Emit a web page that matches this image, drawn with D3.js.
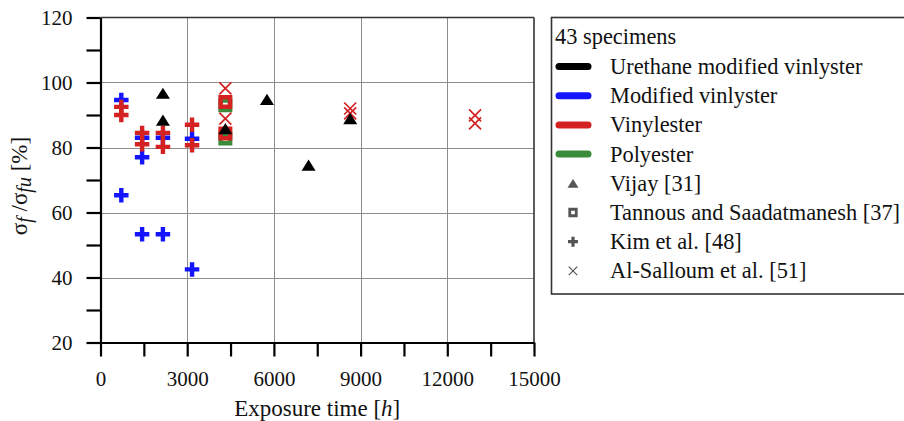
<!DOCTYPE html>
<html><head><meta charset="utf-8">
<script src="https://cdn.jsdelivr.net/npm/d3@7"></script>
<style>
body{margin:0;background:#fff}
svg{display:block}
</style>
</head><body>
<svg id="chart" width="904" height="421"></svg>
<script>
// ---------- data ----------
const resinNames  = ["Urethane modified vinlyster", "Modified vinlyster", "Vinylester", "Polyester"];
const resinColors = ["#000000", "#1414ff", "#d42222", "#3a8c3a"];
const studyNames  = ["Vijay [31]", "Tannous and Saadatmanesh [37]", "Kim et al. [48]", "Al-Salloum et al. [51]"];

// Vijay [31] – urethane modified vinylester (triangles)
const vijayTime  = [2160, 2160, 4320, 5760, 7200, 8640];
const vijayValue = [96.7, 88.4, 85.8, 94.8, 74.6, 88.9];

// Tannous and Saadatmanesh [37] (squares)
const tannousPolyTime   = [4320, 4320];
const tannousPolyValue  = [93.0, 82.8];
const tannousVinylTime  = [4320, 4320];
const tannousVinylValue = [94.0, 84.3];

// Kim et al. [48] (plus)
const kimModTime    = [720, 720, 1440, 1440, 1440, 2160, 2160, 3168, 3168];
const kimModValue   = [94.6, 65.3, 83.0, 77.0, 53.3, 83.0, 53.3, 82.7, 42.5];
const kimVinylTime  = [720, 720, 1440, 1440, 2160, 2160, 3168, 3168];
const kimVinylValue = [92.5, 90.0, 84.5, 81.0, 84.5, 80.2, 87.0, 80.7];

// Al-Salloum et al. [51] – vinylester (x)
const alsTime  = [4320, 4320, 8640, 8640, 12960, 12960];
const alsValue = [98.2, 88.9, 92.0, 90.5, 89.9, 87.4];

const xTickValues  = [0, 1500, 3000, 4500, 6000, 7500, 9000, 10500, 12000, 13500, 15000];
const xLabelValues = [0, 3000, 6000, 9000, 12000, 15000];
const yTickValues  = [20, 30, 40, 50, 60, 70, 80, 90, 100, 110, 120];
const yLabelValues = [20, 40, 60, 80, 100, 120];
const xGridValues  = [3000, 6000, 9000, 12000];
const yGridValues  = [40, 60, 80, 100];
const legendTitle  = "43 specimens";

// ---------- setup ----------
const FONT = "Liberation Serif, Nimbus Roman, Nimbus Roman No9 L, Times, FreeSerif, Noto Serif, DejaVu Serif, Noto Serif CJK SC, serif";
const svg = d3.select("#chart").attr("font-family", FONT).style("font-family", FONT);
const x = d3.scaleLinear().domain([0, 15000]).range([100.5, 534]);
const y = d3.scaleLinear().domain([20, 120]).range([342.5, 17.5]);
const color = d3.scaleOrdinal().domain(resinNames).range(resinColors);

// grid
const grid = svg.append("g");
grid.selectAll(".gx").data(xGridValues).join("line")
  .attr("x1", d => Math.round(x(d)) + 0.5).attr("x2", d => Math.round(x(d)) + 0.5)
  .attr("y1", y(120)).attr("y2", y(20))
  .attr("stroke", "#8c8c8c").attr("stroke-width", 1);
grid.selectAll(".gy").data(yGridValues).join("line")
  .attr("y1", d => Math.round(y(d)) + 0.5).attr("y2", d => Math.round(y(d)) + 0.5)
  .attr("x1", x(0)).attr("x2", x(15000))
  .attr("stroke", "#8c8c8c").attr("stroke-width", 1);

// frame top/right
svg.append("line").attr("x1", x(0)).attr("x2", x(15000)).attr("y1", y(120)).attr("y2", y(120))
  .attr("stroke", "#333").attr("stroke-width", 1.6);
svg.append("line").attr("x1", x(15000)).attr("x2", x(15000)).attr("y1", y(120)).attr("y2", y(20))
  .attr("stroke", "#333").attr("stroke-width", 1.6);

// axes
const fmt = d3.format("d");
const xAxis = d3.axisBottom(x).tickValues(xTickValues).tickSize(14).tickSizeOuter(0).tickPadding(15)
  .tickFormat(d => xLabelValues.includes(d) ? fmt(d) : "");
const yAxis = d3.axisLeft(y).tickValues(yTickValues).tickSize(14).tickSizeOuter(0).tickPadding(14)
  .tickFormat(d => yLabelValues.includes(d) ? fmt(d) : "");

function styleAxis(g) {
  g.attr("font-family", null);
  g.select(".domain").attr("stroke", "#000").attr("stroke-width", 2.2);
  g.selectAll(".tick line").attr("stroke", "#000").attr("stroke-width", 2.2);
  g.selectAll(".tick text").attr("font-size", 21).attr("fill", "#111").style("font-family", FONT);
}
svg.append("g").attr("transform", `translate(0,${y(20)})`).call(xAxis).call(styleAxis);
svg.append("g").attr("transform", `translate(${x(0)},0)`).call(yAxis).call(styleAxis);

// ---------- custom symbols ----------
const triSym = {draw(ctx, size){ const w = Math.sqrt(size) / 2; ctx.moveTo(0, -w * 0.8); ctx.lineTo(w, w * 0.8); ctx.lineTo(-w, w * 0.8); ctx.closePath(); }};
const sqSym  = {draw(ctx, size){ const r = Math.sqrt(size) / 2; ctx.rect(-r, -r, 2 * r, 2 * r); }};
const plusSym = {draw(ctx, size){ const r = Math.sqrt(size) / 2; ctx.moveTo(-r, 0); ctx.lineTo(r, 0); ctx.moveTo(0, -r); ctx.lineTo(0, r); }};
const xSym = {draw(ctx, size){ const r = Math.sqrt(size) / 2; ctx.moveTo(-r, -r); ctx.lineTo(r, r); ctx.moveTo(-r, r); ctx.lineTo(r, -r); }};

const marks = svg.append("g");
function drawSet(times, values, resin, type, size, filled, sw) {
  const data = times.map((t, i) => ({t, v: values[i]}));
  marks.append("g").selectAll("path").data(data).join("path")
    .attr("transform", d => `translate(${x(d.t)},${y(d.v)})`)
    .attr("d", d3.symbol().type(type).size(size))
    .attr("fill", filled ? color(resin) : "none")
    .attr("stroke", filled ? "none" : color(resin))
    .attr("stroke-width", sw);
}
drawSet(kimModTime, kimModValue, resinNames[1], plusSym, 14.5 * 14.5, false, 4.4);
drawSet(kimVinylTime, kimVinylValue, resinNames[2], plusSym, 14.5 * 14.5, false, 4.4);
drawSet(tannousPolyTime, tannousPolyValue, resinNames[3], sqSym, 9.5 * 9.5, false, 4.5);
drawSet(tannousVinylTime, tannousVinylValue, resinNames[2], sqSym, 9.5 * 9.5, false, 4.5);
drawSet(alsTime, alsValue, resinNames[2], xSym, 12 * 12, false, 1.7);
drawSet(vijayTime, vijayValue, resinNames[0], triSym, 14 * 14, true, 0);

// ---------- axis titles ----------
const xt = svg.append("text").attr("x", (x(0) + x(15000)) / 2).attr("y", 416)
  .attr("text-anchor", "middle").attr("font-size", 23).attr("fill", "#111");
xt.append("tspan").text("Exposure time [");
xt.append("tspan").attr("font-style", "italic").text("h");
xt.append("tspan").text("]");

const yt = svg.append("text").attr("transform", "translate(27,186) rotate(-90)")
  .attr("text-anchor", "middle").attr("font-size", 23).attr("fill", "#111");
yt.append("tspan").text("σ");
yt.append("tspan").attr("font-style", "italic").attr("font-size", 20).attr("dy", 4).text("f");
yt.append("tspan").attr("dy", -4).text(" /σ");
yt.append("tspan").attr("font-style", "italic").attr("font-size", 20).attr("dy", 4).text("fu");
yt.append("tspan").attr("dy", -4).text(" [%]");

// ---------- legend ----------
const LFS = 22.4;
const lg = svg.append("g");
lg.append("rect").attr("x", 551.5).attr("y", 17.5).attr("width", 420).attr("height", 276.5)
  .attr("fill", "#fff").attr("stroke", "#333").attr("stroke-width", 1.6);
lg.append("text").attr("x", 555).attr("y", 43.5).attr("font-size", LFS).attr("fill", "#111").text(legendTitle);

const rowY = i => 74 + i * 29.2;
const resinRows = lg.selectAll(".resin").data(resinNames).join("g")
  .attr("transform", (d, i) => `translate(0,${rowY(i)})`);
resinRows.append("line").attr("x1", 559).attr("x2", 588).attr("y1", -7.5).attr("y2", -7.5)
  .attr("stroke", d => color(d)).attr("stroke-width", 7).attr("stroke-linecap", "round");
resinRows.append("text").attr("x", 610).attr("font-size", LFS).attr("fill", "#111").text(d => d);

const studySyms = [
  {type: triSym, size: 11 * 11, fill: true, sw: 0},
  {type: sqSym, size: 6.5 * 6.5, fill: false, sw: 2.8},
  {type: plusSym, size: 10 * 10, fill: false, sw: 3.2},
  {type: xSym, size: 8.5 * 8.5, fill: false, sw: 1.2}
];
const studyRows = lg.selectAll(".study").data(studyNames).join("g")
  .attr("transform", (d, i) => `translate(0,${rowY(i + 4)})`);
studyRows.append("path")
  .attr("transform", "translate(573,-7.5)")
  .attr("d", (d, i) => d3.symbol().type(studySyms[i].type).size(studySyms[i].size)())
  .attr("fill", (d, i) => studySyms[i].fill ? "#555" : "none")
  .attr("stroke", (d, i) => studySyms[i].fill ? "none" : "#555")
  .attr("stroke-width", (d, i) => studySyms[i].sw);
studyRows.append("text").attr("x", 610).attr("font-size", LFS).attr("fill", "#111").text(d => d);
</script>
</body></html>
